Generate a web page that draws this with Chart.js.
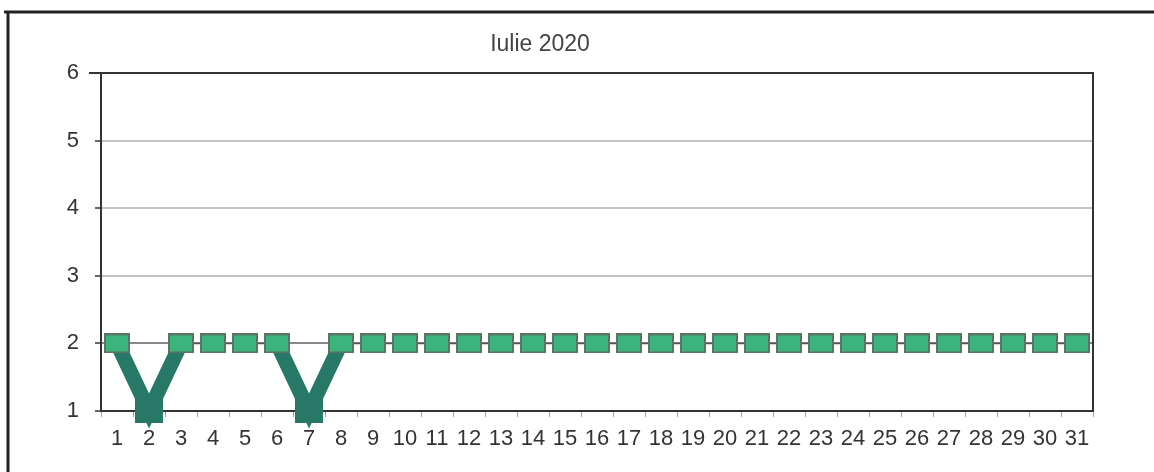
<!DOCTYPE html>
<html>
<head>
<meta charset="utf-8">
<script src="https://cdn.jsdelivr.net/npm/chart.js@4/dist/chart.umd.min.js"></script>
<style>
  html, body { margin: 0; padding: 0; background: #fff; }
  #box { width: 1154px; height: 472px; }
</style>
</head>
<body>
<div id="box"><canvas id="grafic"></canvas></div>
<script>
var titlu = 'Iulie 2020';
var zile = ['1','2','3','4','5','6','7','8','9','10','11','12','13','14','15','16',
            '17','18','19','20','21','22','23','24','25','26','27','28','29','30','31'];
var valori = [2,1,2,2,2,2,1,2,2,2,2,2,2,2,2,2,2,2,2,2,2,2,2,2,2,2,2,2,2,2,2];
var tickuriY = [1,2,3,4,5,6];

// markere: dreptunghi verde pentru 2, patrat teal inchis pentru 1
function marker(w, h, fill, stroke) {
    var c = document.createElement('canvas');
    c.width = w; c.height = h;
    var g = c.getContext('2d');
    g.fillStyle = fill;
    g.fillRect(0, 0, w, h);
    if (stroke) {
        g.strokeStyle = stroke;
        g.lineWidth = 2;
        g.strokeRect(1, 1, w - 2, h - 2);
    }
    return c;
}
var mVerde = marker(26, 20, '#3cb57c', '#5a7564');
var mJos = marker(28, 24, '#277866', null);

var stiluri = valori.map(function (v) { return v === 1 ? mJos : mVerde; });

function eJos(ctx) {
    return ctx.p0.parsed.y === 1 || ctx.p1.parsed.y === 1;
}

var cadru = {
    id: 'cadru',
    beforeDraw: function (chart) {
        var c = chart.ctx;
        c.save();
        c.strokeStyle = '#222';
        c.lineWidth = 3;
        c.beginPath();
        c.moveTo(4, 12); c.lineTo(1154, 12);
        c.moveTo(8, 12); c.lineTo(8, 472);
        c.stroke();
        c.restore();
    },
    afterDraw: function (chart) {
        var a = chart.chartArea;
        var c = chart.ctx;
        c.save();
        c.strokeStyle = '#333';
        c.lineWidth = 2;
        c.beginPath();
        c.moveTo(a.left - 12, a.top); c.lineTo(a.right, a.top);
        c.lineTo(a.right, a.bottom);
        c.stroke();
        c.fillStyle = '#444';
        c.font = '23px "Liberation Sans", Arial, sans-serif';
        c.textAlign = 'center';
        c.textBaseline = 'middle';
        c.fillText(titlu, 540, 45);
        c.restore();
    }
};

new Chart(document.getElementById('grafic'), {
    type: 'line',
    data: {
        labels: zile,
        datasets: [{
            data: valori,
            borderColor: '#555',
            borderWidth: 1.5,
            pointStyle: stiluri,
            pointRadius: 12,
            pointHoverRadius: 12,
            clip: false,
            segment: {
                borderColor: function (ctx) { return eJos(ctx) ? '#277866' : '#555'; },
                borderWidth: function (ctx) { return eJos(ctx) ? 15 : 1.5; }
            }
        }]
    },
    options: {
        responsive: true,
        maintainAspectRatio: false,
        animation: false,
        events: [],
        layout: { padding: { left: 0, right: 61, top: 73, bottom: 0 } },
        plugins: {
            legend: { display: false },
            title: { display: false },
            tooltip: { enabled: false }
        },
        scales: {
            x: {
                offset: true,
                afterFit: function (s) { s.height = 61; },
                grid: {
                    drawOnChartArea: false,
                    tickLength: 6,
                    tickColor: '#9aa4b4',
                    offset: true
                },
                border: { color: '#333', width: 2 },
                ticks: {
                    autoSkip: false,
                    maxRotation: 0,
                    padding: 9,
                    color: '#333',
                    font: { family: '"Liberation Sans", Arial, sans-serif', size: 22 }
                }
            },
            y: {
                min: 1,
                max: 6,
                afterFit: function (s) { s.width = 101; },
                afterBuildTicks: function (s) {
                    s.ticks = tickuriY.map(function (v) { return { value: v }; });
                },
                grid: {
                    color: function (ctx) {
                        if (ctx.tick.value === 6 || ctx.tick.value === 1) return 'rgba(0,0,0,0)';
                        if (ctx.tick.value === 2) return '#888';
                        return '#c4c4c4';
                    },
                    lineWidth: 2,
                    tickLength: 6,
                    tickColor: '#666'
                },
                border: { color: '#333', width: 2 },
                ticks: {
                    padding: 16,
                    color: '#333',
                    font: { family: '"Liberation Sans", Arial, sans-serif', size: 22 }
                }
            }
        }
    },
    plugins: [cadru]
});
</script>
</body>
</html>
